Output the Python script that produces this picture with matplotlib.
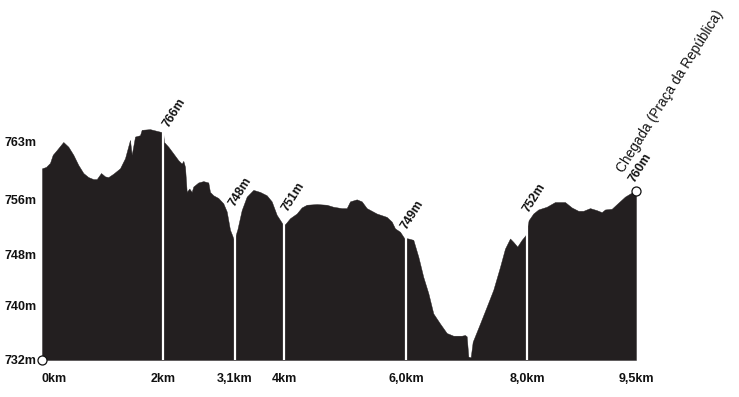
import numpy as np
import matplotlib
matplotlib.use("Agg")
import matplotlib.pyplot as plt

plt.rcParams['font.family'] = ['Liberation Sans', 'DejaVu Sans']

# ---- data ----
dist_km = [0.000, 0.066, 0.132, 0.177, 0.243, 0.351, 0.434, 0.517, 0.599, 0.682,
           0.764, 0.847, 0.903, 0.974, 1.040, 1.094, 1.177, 1.287, 1.370, 1.452,
           1.480, 1.535, 1.617, 1.645, 1.782, 1.959, 1.997, 2.013, 2.084, 2.167,
           2.249, 2.305, 2.332, 2.360, 2.388, 2.431, 2.470, 2.497, 2.579, 2.662,
           2.744, 2.772, 2.827, 2.909, 2.992, 3.048, 3.102, 3.168, 3.223, 3.295,
           3.378, 3.487, 3.597, 3.708, 3.790, 3.873, 3.960, 4.010, 4.092, 4.203,
           4.285, 4.368, 4.533, 4.698, 4.807, 4.946, 5.028, 5.083, 5.193, 5.276,
           5.358, 5.523, 5.688, 5.771, 5.825, 5.908, 5.974, 6.045, 6.127, 6.210,
           6.292, 6.375, 6.457, 6.568, 6.678, 6.787, 6.926, 6.980, 7.008, 7.035,
           7.074, 7.107, 7.228, 7.338, 7.447, 7.558, 7.640, 7.723, 7.777, 7.843,
           7.916, 7.980, 8.030, 8.107, 8.190, 8.328, 8.465, 8.630, 8.741, 8.850,
           8.932, 9.043, 9.153, 9.236, 9.290, 9.401, 9.510, 9.620, 9.731, 9.802]
elev_m = [760.4, 760.6, 761.2, 762.4, 763.1, 764.3, 763.6, 762.4, 760.9, 759.7,
          759.1, 758.8, 758.8, 759.7, 759.2, 759.1, 759.6, 760.4, 761.9, 764.6,
          762.4, 765.1, 765.3, 766.1, 766.2, 765.8, 765.8, 764.3, 763.6, 762.6,
          761.6, 761.1, 761.5, 760.6, 756.9, 757.4, 756.9, 757.7, 758.3, 758.5,
          758.3, 756.9, 756.4, 756.0, 755.2, 754.0, 751.3, 749.8, 751.3, 754.2,
          756.2, 757.2, 756.9, 756.4, 755.5, 753.5, 752.3, 752.1, 753.0, 753.7,
          754.6, 755.0, 755.1, 755.0, 754.7, 754.5, 754.5, 755.5, 755.8, 755.5,
          754.5, 753.7, 753.2, 752.5, 751.5, 751.0, 750.1, 750.0, 749.8, 747.3,
          744.3, 741.9, 738.9, 737.4, 736.0, 735.6, 735.6, 735.7, 735.5, 732.5,
          732.4, 734.7, 737.4, 739.9, 742.4, 745.8, 748.5, 750.0, 749.5, 748.8,
          749.8, 750.5, 752.7, 753.7, 754.3, 754.7, 755.4, 755.4, 754.6, 754.1,
          754.1, 754.5, 754.2, 753.9, 754.3, 754.4, 755.3, 756.2, 756.8, 757.1]

marker_km = [2.000, 3.185, 3.993, 6.007, 8.003]
marker_labels = ['766m', '748m', '751m', '749m', '752m']

xtick_pos = [0.0, 2.000, 3.185, 3.993, 6.007, 8.003, 9.802]
xtick_labels = ['0km', '2km', '3,1km', '4km', '6,0km', '8,0km', '9,5km']

ytick_pos = [732.1, 740.0, 747.7, 755.85, 764.3]
ytick_labels = ['732m', '740m', '748m', '756m', '763m']

finish_name = 'Chegada (Praça da República)'
finish_label = '760m'

# ---- layout / style ----
W, H = 739, 397
FILL = '#231f20'
label_offsets = [(5, 4), (-1, 23), (4, 11), (0, 8), (2, 7)]  # pixels

dist = np.array(dist_km)
elev = np.array(elev_m)

fig = plt.figure(figsize=(W / 100, H / 100), dpi=100)
ax_left, ax_right = 42, 636
ax_bottom = 360
y0, y1 = 732, 766.5
px_per_m = 6.75
ax_h = (y1 - y0) * px_per_m
ax = fig.add_axes([ax_left / W, (H - ax_bottom) / H, (ax_right - ax_left) / W, ax_h / H])
ax.set_xlim(dist[0], dist[-1])
ax.set_ylim(y0, y1)

ax.fill_between(dist, y0, elev, color=FILL, linewidth=0.3, edgecolor=FILL, zorder=2)


def top_at(x, w=0.045):
    m = (dist >= x - w) & (dist <= x + w)
    t = np.interp(x, dist, elev)
    if m.any():
        t = max(t, elev[m].max())
    return t


for x, lab, off in zip(marker_km, marker_labels, label_offsets):
    t = top_at(x)
    ax.plot([x, x], [y0, t], color='white', lw=1.6, solid_capstyle='butt', zorder=3)
    ax.annotate(lab, xy=(x, t), xytext=off, textcoords='offset pixels',
                rotation=58, rotation_mode='anchor', ha='left', va='baseline',
                fontsize=9, fontweight='bold', color='#111111', annotation_clip=False)

# start & finish markers
ax.plot([dist[0]], [y0], 'o', ms=6.5, mfc='white', mec='#111111', mew=0.9,
        clip_on=False, zorder=5)
ax.plot([dist[-1]], [elev[-1]], 'o', ms=6.5, mfc='white', mec='#111111', mew=0.9,
        clip_on=False, zorder=5)

ax.annotate(finish_name, xy=(dist[-1], elev[-1]), xytext=(-13, 17),
            textcoords='offset pixels', rotation=58, rotation_mode='anchor',
            ha='left', va='baseline', fontsize=9.8, color='#111111',
            annotation_clip=False)
ax.annotate(finish_label, xy=(dist[-1], elev[-1]), xytext=(-1.5, 8),
            textcoords='offset pixels', rotation=58, rotation_mode='anchor',
            ha='left', va='baseline', fontsize=9, fontweight='bold', color='#111111',
            annotation_clip=False)

for s in ax.spines.values():
    s.set_visible(False)

ax.set_xticks(xtick_pos)
ax.set_xticklabels(xtick_labels, fontsize=9, fontweight='bold', color='#111111')
ax.get_xticklabels()[0].set_ha('left')
ax.set_yticks(ytick_pos)
ax.set_yticklabels(ytick_labels, fontsize=9, fontweight='bold', color='#111111')
ax.tick_params(axis='x', length=0, pad=9)
ax.tick_params(axis='y', length=0, pad=4)

fig.savefig('out.png', dpi=100, facecolor='white')
